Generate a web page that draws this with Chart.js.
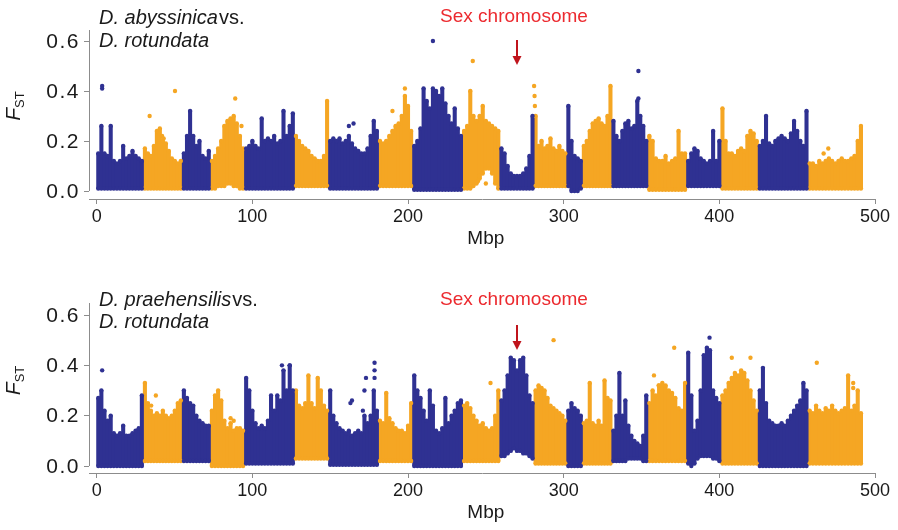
<!DOCTYPE html>
<html><head><meta charset="utf-8">
<script src="https://cdn.jsdelivr.net/npm/chart.js@4.4.1/dist/chart.umd.min.js"></script>
<style>
html,body{margin:0;padding:0;background:#fff;}
#wrap{position:relative;width:898px;height:530px;}
canvas{position:absolute;left:0;}
</style></head><body>
<div id="wrap">
<canvas id="top" width="898" height="265" style="top:0"></canvas>
<canvas id="bottom" width="898" height="265" style="top:265px"></canvas>
</div>
<script>
// chromosome bounds along the D. rotundata genome (Mbp)
const chromStart = [0, 30, 55, 73, 95, 127, 149, 181, 203, 235, 259, 281, 302, 312, 331, 354, 379, 401, 425, 457];
const chromEnd   = [30, 55, 73, 95, 127, 149, 181, 203, 235, 259, 281, 302, 312, 331, 354, 379, 401, 425, 457, 492];
const xTicks = [0, 100, 200, 300, 400, 500];
const yTicks = [0, 0.2, 0.4, 0.6];
const sexChromPos = 270;

// D. abyssinica vs D. rotundata: upper / lower FST of the point cloud, ~2 Mbp windows
const abyHigh = [
  [0.15,0.26,0.15,0.14,0.26,0.12,0.11,0.12,0.18,0.13,0.14,0.16,0.14,0.13,0.12],
  [0.17,0.15,0.14,0.18,0.24,0.25,0.2,0.19,0.16,0.13,0.12,0.11,0.12],
  [0.15,0.22,0.32,0.22,0.18,0.2,0.14,0.13,0.16],
  [0.12,0.14,0.17,0.2,0.26,0.28,0.29,0.3,0.27,0.22,0.17],
  [0.17,0.18,0.2,0.18,0.17,0.29,0.2,0.21,0.2,0.22,0.19,0.2,0.32,0.22,0.26,0.31],
  [0.22,0.2,0.18,0.17,0.16,0.14,0.13,0.12,0.12,0.14,0.36],
  [0.2,0.21,0.2,0.21,0.19,0.2,0.22,0.19,0.17,0.16,0.15,0.15,0.17,0.22,0.28,0.24],
  [0.2,0.19,0.2,0.22,0.24,0.26,0.27,0.3,0.38,0.34,0.24],
  [0.18,0.2,0.25,0.41,0.36,0.33,0.41,0.4,0.38,0.41,0.35,0.3,0.27,0.33,0.25,0.22],
  [0.24,0.26,0.4,0.3,0.28,0.3,0.34,0.28,0.27,0.26,0.25,0.24],
  [0.17,0.15,0.1,0.07,0.06,0.06,0.06,0.07,0.09,0.14,0.3],
  [0.3,0.18,0.2,0.17,0.18,0.21,0.17,0.16,0.18,0.16,0.15],
  [0.34,0.2,0.14,0.13,0.12],
  [0.18,0.2,0.24,0.27,0.28,0.29,0.27,0.26,0.3,0.42],
  [0.28,0.22,0.2,0.24,0.27,0.28,0.25,0.26,0.36,0.3,0.26,0.2],
  [0.22,0.2,0.13,0.12,0.12,0.14,0.11,0.12,0.13,0.24,0.15,0.15],
  [0.12,0.15,0.17,0.16,0.13,0.12,0.11,0.12,0.24,0.12,0.2],
  [0.33,0.2,0.15,0.15,0.14,0.16,0.17,0.16,0.22,0.24,0.23,0.2],
  [0.18,0.2,0.3,0.19,0.18,0.2,0.21,0.22,0.21,0.2,0.23,0.28,0.24,0.2,0.18,0.32],
  [0.11,0.11,0.1,0.12,0.11,0.12,0.13,0.12,0.11,0.12,0.13,0.12,0.12,0.13,0.14,0.2,0.26]
];
const abyLow = [0.01, 0.01, 0.01, [0.01,0.01,0.02,0.02,0.02,0.03,0.03,0.02,0.02,0.01,0.01], 0.01, 0.02, 0.01, 0.02, 0.005,
  [0.01,0.01,0.01,0.02,0.03,0.05,0.07,0.09,0.09,0.07,0.03,0.01], 0.01, 0.02, [0.02,0,0,0,0.01],
  0.02, 0.02, 0.005, 0.02, 0.01, 0.01, 0.01];
const abyOutX = [3.5, 3.5, 34, 50.3, 42, 43, 89, 93, 162, 165, 190, 198, 216, 241.6, 245, 250, 246, 281, 281.3, 281.5, 348, 348, 467, 470];
const abyOutY = [0.42, 0.41, 0.30, 0.40, 0.22, 0.21, 0.37, 0.26, 0.26, 0.27, 0.32, 0.41, 0.60, 0.52, 0.04, 0.03, 0.06, 0.42, 0.38, 0.34, 0.48, 0.37, 0.15, 0.17];

// D. praehensilis vs D. rotundata
const praHigh = [
  [0.27,0.3,0.22,0.18,0.2,0.13,0.12,0.13,0.16,0.12,0.12,0.13,0.14,0.15,0.28],
  [0.33,0.25,0.22,0.2,0.21,0.2,0.22,0.2,0.19,0.2,0.22,0.25,0.26],
  [0.3,0.27,0.25,0.24,0.2,0.18,0.17,0.16,0.16],
  [0.22,0.28,0.3,0.26,0.18,0.15,0.17,0.14,0.15,0.15,0.14],
  [0.35,0.3,0.22,0.17,0.15,0.16,0.15,0.18,0.28,0.22,0.28,0.26,0.38,0.3,0.4,0.3],
  [0.3,0.24,0.23,0.25,0.36,0.25,0.23,0.35,0.3,0.24,0.22],
  [0.3,0.2,0.17,0.15,0.14,0.13,0.14,0.12,0.13,0.14,0.13,0.2,0.17,0.2,0.3,0.22],
  [0.18,0.17,0.29,0.19,0.17,0.15,0.14,0.14,0.13,0.16,0.25],
  [0.36,0.3,0.27,0.22,0.18,0.3,0.24,0.14,0.13,0.15,0.27,0.17,0.2,0.22,0.25,0.26],
  [0.24,0.25,0.23,0.2,0.18,0.16,0.17,0.15,0.14,0.15,0.2,0.3],
  [0.26,0.3,0.36,0.43,0.42,0.38,0.42,0.43,0.36,0.28,0.25],
  [0.3,0.32,0.31,0.3,0.27,0.24,0.23,0.22,0.21,0.2,0.18],
  [0.22,0.25,0.23,0.22,0.2],
  [0.17,0.18,0.33,0.17,0.16,0.18,0.16,0.34,0.27,0.26],
  [0.14,0.2,0.37,0.2,0.26,0.16,0.12,0.1,0.09,0.08,0.12,0.28],
  [0.25,0.3,0.28,0.32,0.33,0.32,0.3,0.29,0.27,0.23,0.22,0.33],
  [0.45,0.28,0.14,0.18,0.3,0.44,0.47,0.46,0.3,0.27,0.25],
  [0.28,0.3,0.33,0.35,0.37,0.36,0.38,0.37,0.34,0.3,0.26,0.22],
  [0.3,0.39,0.25,0.18,0.17,0.16,0.16,0.17,0.16,0.18,0.2,0.22,0.24,0.26,0.33,0.3],
  [0.22,0.21,0.24,0.22,0.21,0.23,0.22,0.24,0.22,0.21,0.22,0.23,0.36,0.22,0.24,0.3,0.21]
];
const praLow = [0, 0.02, 0.02, 0, 0.01, 0.03, 0.005, 0.02, 0, 0.02,
  [0.04,0.04,0.05,0.06,0.07,0.06,0.06,0.05,0.05,0.04,0.03], 0.01, 0, 0.01,
  [0.02,0.02,0.02,0.02,0.02,0.03,0.03,0.03,0.03,0.03,0.02,0.02], 0.02,
  [0.01,0,0.01,0.03,0.04,0.04,0.04,0.04,0.03,0.03,0.02], 0.01, 0, 0.01];
const praOutX = [3.5, 38, 35, 86, 88, 119, 124, 163, 164, 171, 172, 173, 178.5, 178.5, 178.5, 253, 293.5, 358, 361, 371, 393.7, 408, 420, 462.6, 486, 486];
const praOutY = [0.38, 0.28, 0.24, 0.19, 0.18, 0.40, 0.40, 0.25, 0.26, 0.22, 0.30, 0.35, 0.41, 0.38, 0.35, 0.33, 0.50, 0.36, 0.32, 0.47, 0.51, 0.43, 0.43, 0.41, 0.33, 0.31];

const BLUE = '#2f3192', ORANGE = '#f5a623';
const FONT = '"Liberation Sans", Arial, sans-serif';
Chart.defaults.font.family = FONT;

// one bar per window (low..high) plus a dot at both ends so the edges look like the point cloud
function windowMarks(high, low) {
  const m = {blueBar: [], orangeBar: [], blueDot: [], orangeDot: []};
  high.forEach((vals, c) => {
    const step = (chromEnd[c] - chromStart[c]) / vals.length;
    const odd = c % 2;
    vals.forEach((h, i) => {
      const l = Array.isArray(low[c]) ? low[c][i] : low[c];
      const x = chromStart[c] + (i + 0.5) * step;
      (odd ? m.orangeBar : m.blueBar).push({x: x, y: [l, h]});
      (odd ? m.orangeDot : m.blueDot).push({x: x, y: h}, {x: x, y: l});
    });
  });
  return m;
}

function outlierPoints(xs, ys, m) {
  xs.forEach((x, i) => {
    const c = chromStart.findIndex((s, k) => x >= s && x < chromEnd[k]);
    (c % 2 ? m.orangeDot : m.blueDot).push({x: x, y: ys[i]});
  });
  return m;
}

function decor(p) {
  return {
    id: 'decor',
    afterDraw(chart) {
      const ctx = chart.ctx, area = chart.chartArea;
      const xs = chart.scales.x, ys = chart.scales.y;
      ctx.save();
      // y axis line stops at 0, like the R plot
      ctx.strokeStyle = '#8c8c8c';
      ctx.lineWidth = 1;
      ctx.beginPath();
      ctx.moveTo(area.left + 0.5, area.top);
      ctx.lineTo(area.left + 0.5, ys.getPixelForValue(0));
      ctx.stroke();

      ctx.fillStyle = '#1a1a1a';
      // y tick labels (a little larger and wider than the x ones)
      ctx.font = '21px ' + FONT;
      ctx.textAlign = 'right';
      ctx.textBaseline = 'middle';
      ctx.letterSpacing = '1.5px';
      yTicks.forEach(v => ctx.fillText(v.toFixed(1), area.left - 9, ys.getPixelForValue(v) + 1));
      ctx.letterSpacing = '0px';

      ctx.textBaseline = 'alphabetic';
      // panel title
      ctx.textAlign = 'left';
      ctx.font = 'italic 20px ' + FONT;
      ctx.fillText(p.species, 99, p.titleY[0]);
      const w = ctx.measureText(p.species).width;
      ctx.font = '20px ' + FONT;
      ctx.fillText('vs.', 99 + w + 1, p.titleY[0]);
      ctx.font = 'italic 20px ' + FONT;
      ctx.fillText('D. rotundata', 99, p.titleY[1]);

      // Mbp
      ctx.font = '19px ' + FONT;
      ctx.textAlign = 'center';
      ctx.fillText('Mbp', (xs.getPixelForValue(0) + xs.getPixelForValue(500)) / 2, area.bottom + 45);

      // F_ST
      ctx.save();
      ctx.translate(20, ys.getPixelForValue(0.34));
      ctx.rotate(-Math.PI / 2);
      ctx.textAlign = 'left';
      ctx.font = 'italic 21px ' + FONT;
      const fw = ctx.measureText('F').width;
      ctx.font = '13px ' + FONT;
      const sw = ctx.measureText('ST').width;
      ctx.font = 'italic 21px ' + FONT;
      ctx.fillText('F', -(fw + sw) / 2, 0);
      ctx.font = '13px ' + FONT;
      ctx.fillText('ST', -(fw + sw) / 2 + fw, 4);
      ctx.restore();

      // sex chromosome marker
      const ax = xs.getPixelForValue(sexChromPos);
      ctx.fillStyle = '#ec2a2f';
      ctx.font = '19px ' + FONT;
      ctx.textAlign = 'center';
      ctx.fillText('Sex chromosome', ax - 3, p.sexY);
      ctx.strokeStyle = '#c0141c';
      ctx.fillStyle = '#c0141c';
      ctx.lineWidth = 2;
      ctx.beginPath();
      ctx.moveTo(ax, p.arrowY[0]);
      ctx.lineTo(ax, p.arrowY[1] - 7);
      ctx.stroke();
      ctx.beginPath();
      ctx.moveTo(ax - 4.5, p.arrowY[1] - 9);
      ctx.lineTo(ax + 4.5, p.arrowY[1] - 9);
      ctx.lineTo(ax, p.arrowY[1]);
      ctx.closePath();
      ctx.fill();
      ctx.restore();
    }
  };
}

function makePanel(id, high, low, outX, outY, p) {
  const m = outlierPoints(outX, outY, windowMarks(high, low));
  const barStyle = {type: 'bar', barThickness: 3.4, grouped: false, borderRadius: 0, borderSkipped: false, borderWidth: 0, order: 1};
  const dotStyle = {type: 'scatter', pointRadius: 2.2, pointBorderWidth: 0, order: 0};
  new Chart(document.getElementById(id), {
    type: 'bar',
    data: {
      datasets: [
        Object.assign({data: m.blueBar, backgroundColor: BLUE}, barStyle),
        Object.assign({data: m.orangeBar, backgroundColor: ORANGE}, barStyle),
        Object.assign({data: m.blueDot, backgroundColor: BLUE, pointBackgroundColor: BLUE}, dotStyle),
        Object.assign({data: m.orangeDot, backgroundColor: ORANGE, pointBackgroundColor: ORANGE}, dotStyle)
      ]
    },
    options: {
      responsive: false,
      animation: false,
      devicePixelRatio: 1,
      layout: {padding: {left: 0, right: 23, top: p.areaTop, bottom: 0}},
      plugins: {legend: {display: false}, tooltip: {enabled: false}},
      scales: {
        x: {
          type: 'linear', offset: false, min: -4.95, max: 500,
          afterBuildTicks: s => { s.ticks = xTicks.map(v => ({value: v})); },
          afterFit: s => { s.height = 265 - p.areaBottom; },
          ticks: {color: '#1a1a1a', font: {size: 18}, padding: 2, maxRotation: 0},
          grid: {drawOnChartArea: false, offset: false, tickLength: 5, color: '#8c8c8c'},
          border: {display: true, color: '#8c8c8c'}
        },
        y: {
          min: p.yMin, max: p.yMax,
          afterBuildTicks: s => { s.ticks = yTicks.map(v => ({value: v})); },
          afterFit: s => { s.width = 89; },
          ticks: {display: false},
          grid: {drawOnChartArea: false, tickLength: 5, color: '#8c8c8c'},
          border: {display: false}
        }
      }
    },
    plugins: [decor(p)]
  });
}

makePanel('top', abyHigh, abyLow, abyOutX, abyOutY,
  {species: 'D. abyssinica', titleY: [24, 47], sexY: 22, arrowY: [40, 65], areaTop: 30, areaBottom: 199, yMin: -0.032, yMax: 0.644});
makePanel('bottom', praHigh, praLow, praOutX, praOutY,
  {species: 'D. praehensilis', titleY: [41, 63], sexY: 40, arrowY: [60, 85], areaTop: 38, areaBottom: 208, yMin: -0.0278, yMax: 0.6477});
</script>
</body></html>
